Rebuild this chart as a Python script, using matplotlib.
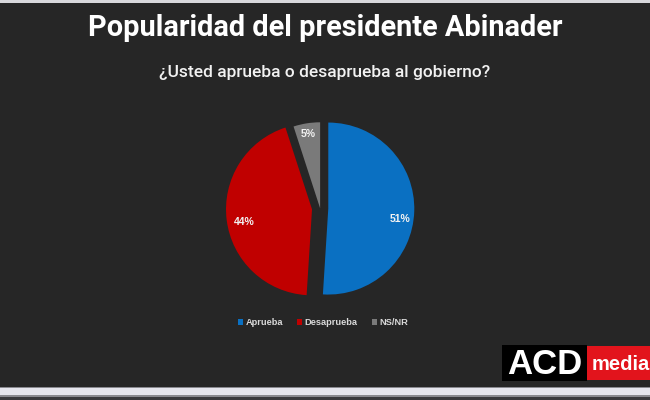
import matplotlib.pyplot as plt
import numpy as np
from matplotlib.patches import Rectangle

# datos de la encuesta
categorias = ["Aprueba", "Desaprueba", "NS/NR"]
valores = [51, 44, 5]
colores = ["#0a70c2", "#c00000", "#7a7a7a"]

titulo = "Popularidad del presidente Abinader"
pregunta = "¿Usted aprueba o desaprueba al gobierno?"

fondo = "#262626"

fig = plt.figure(figsize=(6.5, 4), dpi=100, facecolor=fondo)

# franjas claras arriba y abajo (marco de la captura)
fig.patches.append(Rectangle((0, 0.992), 1, 0.008, transform=fig.transFigure,
                             facecolor="#d8d8dc", edgecolor="none"))
fig.patches.append(Rectangle((0, 0.0), 1, 0.033, transform=fig.transFigure,
                             facecolor="#8a8a90", edgecolor="none"))
fig.patches.append(Rectangle((0, 0.012), 1, 0.017, transform=fig.transFigure,
                             facecolor="#e6e6ee", edgecolor="none"))
fig.patches.append(Rectangle((0, 0.0), 1, 0.008, transform=fig.transFigure,
                             facecolor="#3a3a3e", edgecolor="none"))

fig.text(0.5, 0.93, titulo, ha="center", va="center", color="white",
         fontsize=20.8, fontweight="bold", family="Roboto")
fig.text(0.5, 0.818, pregunta, ha="center", va="center", color="#f2f2f2",
         fontsize=12.5, fontweight="medium", family="Roboto")

# tarta
ax = fig.add_axes([0.327, 0.232, 0.331, 0.4945])
ax.set_facecolor(fondo)
explode = [0.095, 0.095, 0.0]
wedges, _ = ax.pie(valores, colors=colores, startangle=90, counterclock=False,
                   explode=explode, radius=1.0)
ax.set_aspect("equal")
ax.set_xlim(-1.25, 1.25)
ax.set_ylim(-1.15, 1.15)

# etiquetas de porcentaje: distancia y pequeño desplazamiento por porción
dist_etiqueta = [0.84, 0.80, 0.87]
desp_etiqueta = [(0.0, -0.1), (0.0, -0.05), (0.0, 0.0)]
for w, v, d, e, (dx, dy) in zip(wedges, valores, dist_etiqueta, explode, desp_etiqueta):
    ang = np.deg2rad((w.theta1 + w.theta2) / 2)
    x = (d + e) * np.cos(ang) + dx
    y = (d + e) * np.sin(ang) + dy
    ax.text(x, y, f"{v}%", ha="center", va="center", color="#f2f2f2",
            fontsize=7.5, fontweight="bold", family="Liberation Sans")

ley = fig.legend(wedges, categorias, loc="center", bbox_to_anchor=(0.497, 0.193),
                 ncol=3, frameon=False, handlelength=0.55, handleheight=0.55,
                 handletextpad=0.3, columnspacing=1.5,
                 prop={"family": "Liberation Sans", "weight": "bold", "size": 6.7})
for t in ley.get_texts():
    t.set_color("#d9d9d9")

# logotipo ACD media
fig.patches.append(Rectangle((502 / 650, 1 - 381 / 400), 85 / 650, 36 / 400,
                             transform=fig.transFigure, facecolor="black",
                             edgecolor="none"))
fig.patches.append(Rectangle((587 / 650, 1 - 380 / 400), 63 / 650, 34 / 400,
                             transform=fig.transFigure, facecolor="#e2141c",
                             edgecolor="none"))
fig.text(545 / 650, 1 - 364 / 400, "ACD", ha="center", va="center", color="white",
         fontsize=25, fontweight="bold", family="Liberation Sans")
fig.text(592 / 650, 1 - 364 / 400, "media", ha="left", va="center", color="white",
         fontsize=14.5, fontweight="bold", family="Liberation Sans")

fig.savefig("out.png", dpi=100, facecolor=fondo)
